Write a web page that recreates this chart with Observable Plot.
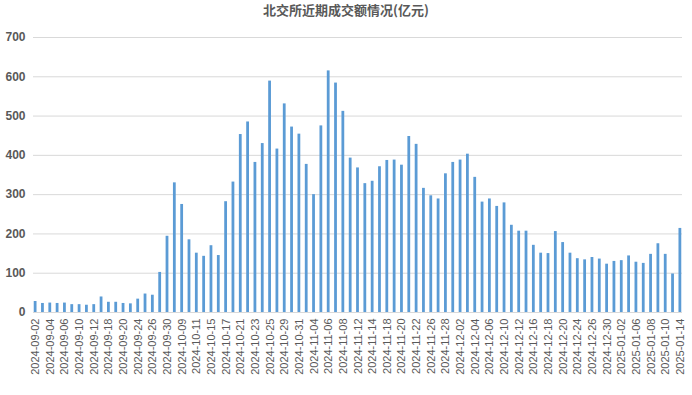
<!DOCTYPE html>
<html>
<head>
<meta charset="utf-8">
<script src="https://cdn.jsdelivr.net/npm/d3@7"></script>
<script src="https://cdn.jsdelivr.net/npm/@observablehq/plot@0.6"></script>
<style>
  html, body { margin: 0; padding: 0; background: #fff; }
  #title { height: 26px; line-height: 28px; text-align: center; font: bold 13px "Noto Sans CJK SC", "Liberation Sans", sans-serif; color: #595959; }
  #chart svg { display: block; }
</style>
</head>
<body>
<div id="title">北交所近期成交额情况(亿元)</div>
<div id="chart"></div>
<script>
const dates = [
  "2024-09-02","2024-09-03","2024-09-04","2024-09-05","2024-09-06","2024-09-09","2024-09-10","2024-09-11","2024-09-12","2024-09-13",
  "2024-09-18","2024-09-19","2024-09-20","2024-09-23","2024-09-24","2024-09-25","2024-09-26","2024-09-27","2024-09-30",
  "2024-10-08","2024-10-09","2024-10-10","2024-10-11","2024-10-14","2024-10-15","2024-10-16","2024-10-17","2024-10-18",
  "2024-10-21","2024-10-22","2024-10-23","2024-10-24","2024-10-25","2024-10-28","2024-10-29","2024-10-30","2024-10-31",
  "2024-11-01","2024-11-04","2024-11-05","2024-11-06","2024-11-07","2024-11-08","2024-11-11","2024-11-12","2024-11-13",
  "2024-11-14","2024-11-15","2024-11-18","2024-11-19","2024-11-20","2024-11-21","2024-11-22","2024-11-25","2024-11-26",
  "2024-11-27","2024-11-28","2024-11-29","2024-12-02","2024-12-03","2024-12-04","2024-12-05","2024-12-06","2024-12-09",
  "2024-12-10","2024-12-11","2024-12-12","2024-12-13","2024-12-16","2024-12-17","2024-12-18","2024-12-19","2024-12-20",
  "2024-12-23","2024-12-24","2024-12-25","2024-12-26","2024-12-27","2024-12-30","2024-12-31",
  "2025-01-02","2025-01-03","2025-01-06","2025-01-07","2025-01-08","2025-01-09","2025-01-10","2025-01-13","2025-01-14"
];
const values = [
  28, 23, 24, 23, 24, 20, 20, 18.5, 20, 39.5,
  26, 26, 23, 22, 34, 47, 44, 102, 194,
  330, 275, 185, 151, 143, 170, 145, 282, 332,
  453, 485, 382, 430, 589, 416, 531, 472, 454,
  377, 300, 475, 615, 584, 512, 393, 368, 328,
  334, 371, 387, 388, 375, 448, 428, 316, 297,
  289, 353, 382, 388, 403, 344, 281, 289, 270,
  279, 222, 207, 207, 171, 151, 150, 206, 178,
  151, 137, 134, 140, 136, 123, 130,
  132, 144, 128, 125, 148, 175, 148, 98, 214
];
const yTicks = [0, 100, 200, 300, 400, 500, 600, 700];
const xTickLabels = dates.filter((d, i) => i % 2 === 0);

const data = dates.map((d, i) => ({date: d, value: values[i]}));

const chart = Plot.plot({
  width: 692,
  height: 369,
  marginTop: 11,
  marginBottom: 83,
  marginLeft: 33,
  marginRight: 10,
  style: { fontFamily: "'Liberation Sans', Arial, sans-serif", background: "#fff" },
  x: { type: "band", domain: dates, paddingInner: 0.62, paddingOuter: 0.1, round: false, axis: null, label: null },
  y: { domain: [0, 700], axis: null, label: null },
  marks: [
    Plot.gridY(yTicks, { stroke: "#d9d9d9", strokeOpacity: 1 }),
    Plot.barY(data, { x: "date", y: "value", fill: "#5b9bd5" }),
    Plot.axisY({ ticks: yTicks, tickSize: 0, tickPadding: 8, fontSize: 12, fontWeight: "bold", fill: "#595959", label: null }),
    Plot.axisX({ ticks: xTickLabels, tickSize: 0, tickRotate: -90, tickPadding: 6, fontSize: 11, fill: "#595959", label: null })
  ]
});
document.getElementById("chart").appendChild(chart);
</script>
</body>
</html>
